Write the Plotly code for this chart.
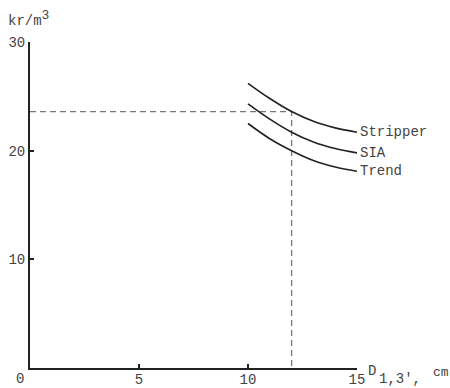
import plotly.graph_objects as go

# Diameter D1,3 (cm) at which each curve is read
diameters = [10, 11, 12, 13, 14, 15]

# Price per cubic metre (kr/m3) for each method
stripper = [26.2, 24.8, 23.6, 22.7, 22.1, 21.7]
sia = [24.3, 22.9, 21.7, 20.8, 20.2, 19.8]
trend = [22.5, 21.1, 20.0, 19.1, 18.5, 18.1]

series_names = ["Stripper", "SIA", "Trend"]
series_values = [stripper, sia, trend]

# Reading guide: diameter 12 cm on the Stripper curve
guide_x = [0, 12, 12]
guide_y = [23.6, 23.6, 0]

x_ticks = [5, 10, 15]
y_ticks = [10, 20, 30]

FONT = "Liberation Mono, Courier New, monospace"
INK = "#222222"
TEXT = "#444444"

W, H = 450, 388
ML, MR, MT, MB = 30, 93, 42, 20
PW, PH = W - ML - MR, H - MT - MB


def px_to_paper(px, py):
    """Pixel position on the page -> paper coordinates."""
    return (px - ML) / PW, 1 - (py - MT) / PH


def page_text(text, px, py, size=14, anchor="left"):
    x, y = px_to_paper(px, py)
    fig.add_annotation(
        x=x, y=y, xref="paper", yref="paper", text=text, showarrow=False,
        xanchor=anchor, yanchor="middle",
        font=dict(family=FONT, size=size, color=TEXT),
    )


fig = go.Figure()

fig.add_trace(go.Scatter(
    x=guide_x, y=guide_y, mode="lines",
    line=dict(color="#777777", width=1.3, dash="6px,4px"),
    hoverinfo="skip", showlegend=False, cliponaxis=False,
))

for name, vals in zip(series_names, series_values):
    fig.add_trace(go.Scatter(
        x=diameters, y=vals, mode="lines", name=name,
        line=dict(color=INK, width=1.6, shape="spline", smoothing=1.0),
        showlegend=False, cliponaxis=False,
    ))
    fig.add_annotation(
        x=diameters[-1], y=vals[-1], xref="x", yref="y",
        text=name, showarrow=False, xanchor="left", yanchor="middle",
        xshift=1, font=dict(family=FONT, size=14, color=TEXT),
    )

# Shared origin label
page_text("0", 20, 379, anchor="center")
# y-axis title: kr/m³
page_text("kr/m<sup><span style='font-size:13px'>3</span></sup>", 6, 19)
# x-axis title: D₁,₃', cm
page_text("D", 366, 371)
page_text("1,3',", 377, 379)
page_text("cm", 431, 373, size=13)

axis_style = dict(
    showgrid=False, zeroline=False, showline=True, linecolor=INK,
    linewidth=2, ticks="inside", ticklen=4, tickwidth=2, tickcolor=INK,
    tickfont=dict(family=FONT, size=14, color=TEXT), automargin=False,
)

fig.update_layout(
    width=W, height=H,
    margin=dict(l=ML, r=MR, t=MT, b=MB),
    paper_bgcolor="white", plot_bgcolor="white",
    font=dict(family=FONT, size=14, color=TEXT),
    xaxis=dict(range=[0, 15], tickvals=x_ticks,
               ticktext=[str(v) for v in x_ticks],
               ticklabelstandoff=-3, **axis_style),
    yaxis=dict(range=[0, 30], tickvals=y_ticks,
               ticktext=[str(v) for v in y_ticks], **axis_style),
)

fig.write_html("out.html")
